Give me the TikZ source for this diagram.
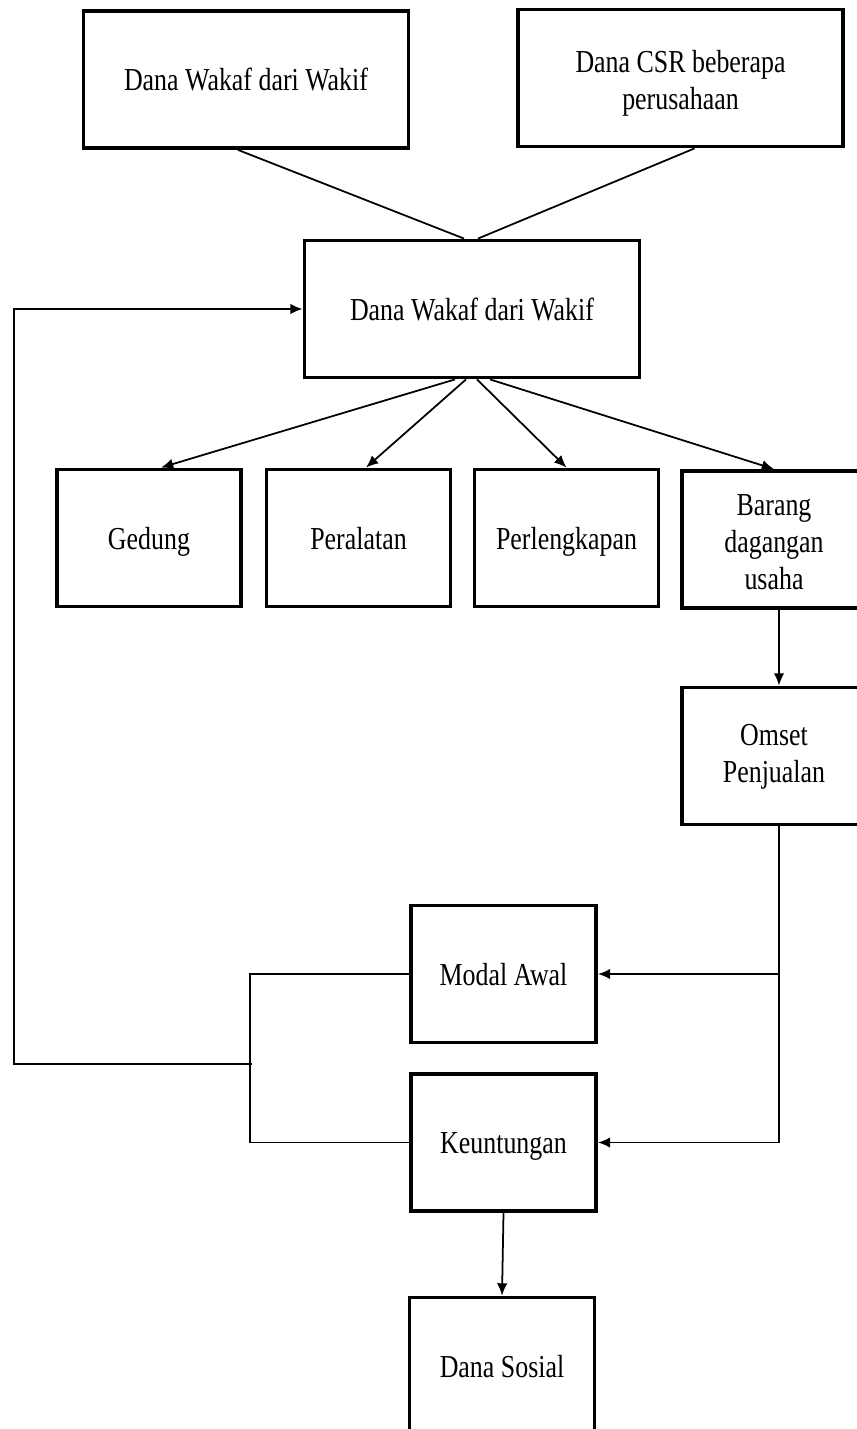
\documentclass[tikz,border=0pt]{standalone}
\usepackage{fontspec}
\setmainfont{Liberation Serif}[FakeStretch=0.81]
\usetikzlibrary{arrows.meta}

\begin{document}
\begin{tikzpicture}[x=0.02cm, y=-0.02cm, align=center,
    font=\fontsize{18.2}{21.3}\selectfont,
    >={Latex[length=7pt,width=6pt]},
    box/.style={draw, line width=2.2pt, inner sep=0pt,
      execute at begin node={\rule{0pt}{19pt}}, execute at end node=\strut},
    widebox/.style={box, minimum width=6.5cm, minimum height=2.74cm},
    smallbox/.style={box, minimum width=3.68cm, minimum height=2.74cm},
    link/.style={line width=1pt}]
      \useasboundingbox (0,0) rectangle (857,1429);

      % sources of the fund
      \node[widebox] (wakif) at (246,79.5) {Dana Wakaf dari Wakif};
      \node[widebox, text height=42.4pt, text depth=6pt] (csr) at (680.5,78) {Dana CSR beberapa\\ perusahaan};
      \node[widebox, minimum width=6.7cm] (dana) at (472,309) {Dana Wakaf dari Wakif};

      % what the fund buys
      \node[smallbox] (gedung) at (149,538) {Gedung};
      \node[smallbox] (alat) at (358.5,538) {Peralatan};
      \node[smallbox] (lengkap) at (566.5,538) {Perlengkapan};
      \node[smallbox, text height=63.4pt, text depth=6pt] (barang) at (774,539.5) {Barang\\ dagangan\\ usaha};
      \node[smallbox, text height=36.7pt, text depth=6pt] (omset) at (774,756) {Omset\\ Penjualan};

      % results
      \node[smallbox, minimum width=3.7cm] (modal) at (503.5,974) {Modal Awal};
      \node[smallbox, minimum width=3.7cm] (untung) at (503.5,1142.5) {Keuntungan};
      \node[smallbox, minimum width=3.7cm] (sosial) at (502,1366) {Dana Sosial};

      \coordinate (split) at (252,1064);

      \draw[link] ([xshift=-0.16cm]wakif.south) -- ([xshift=-0.16cm]dana.north);
      \draw[link] ([xshift=0.28cm]csr.south) -- ([xshift=0.12cm]dana.north);

      \draw[link, ->] ([xshift=-0.34cm]dana.south) -- ([xshift=0.24cm]gedung.north);
      \draw[link, ->] ([xshift=-0.12cm]dana.south) -- ([xshift=0.15cm]alat.north);
      \draw[link, ->] ([xshift=0.1cm]dana.south) -- (lengkap.north);
      \draw[link, ->] ([xshift=0.36cm]dana.south) -- (barang.north);

      \draw[link, ->] ([xshift=0.1cm]barang.south) -- ([xshift=0.1cm]omset.north);
      \draw[link, ->] ([xshift=0.1cm]omset.south) |- (untung.east);
      \draw[link, ->] ([xshift=0.1cm]omset.south |- modal.east) -- (modal.east);

      \draw[link] (modal.west) -- ++(-3.18cm,0) |- (untung.west);
      \draw[link, ->] (split) -- ++(-4.76cm,0) |- (dana.west);
      \draw[link, ->] (untung.south) -- (sosial.north);
    \end{tikzpicture}
\end{document}
